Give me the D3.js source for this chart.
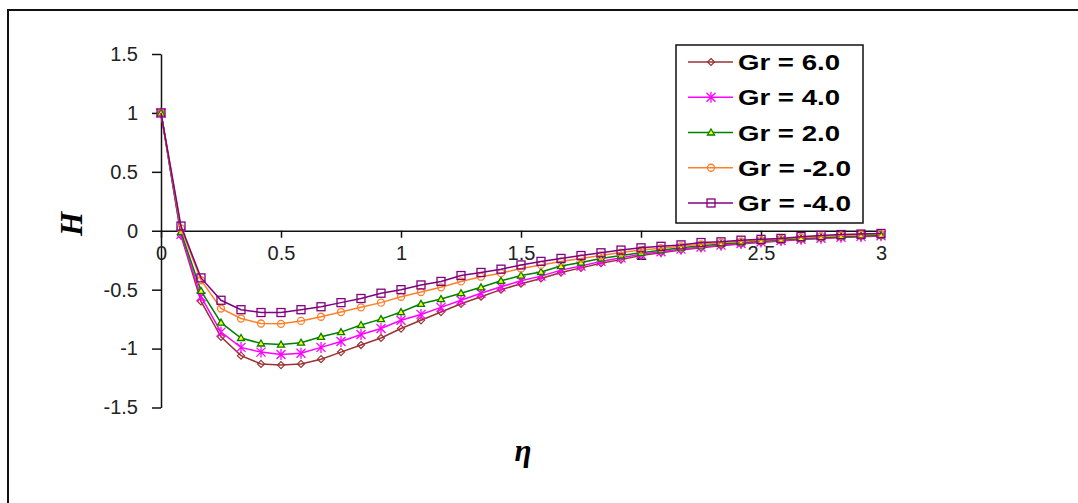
<!DOCTYPE html>
<html lang="en">
<head>
    <meta charset="UTF-8">
    <title>H profiles for different Gr</title>
    <script src="https://cdn.jsdelivr.net/npm/d3@7/dist/d3.min.js"></script>
    <style>
        body { margin: 0; background: #fff; }
        .tick text { font-family: "Liberation Sans", Arial, sans-serif; font-size: 20px; fill: #222; }
    </style>
</head>
<body>
<svg width="1078" height="503"></svg>
<script>
// eta grid (step 1/12)
const eta = [0, 0.0833, 0.1667, 0.25, 0.3333, 0.4167, 0.5, 0.5833, 0.6667, 0.75, 0.8333, 0.9167,
    1, 1.0833, 1.1667, 1.25, 1.3333, 1.4167, 1.5, 1.5833, 1.6667, 1.75, 1.8333, 1.9167,
    2, 2.0833, 2.1667, 2.25, 2.3333, 2.4167, 2.5, 2.5833, 2.6667, 2.75, 2.8333, 2.9167, 3];

const hGr6 = [1, -0.04, -0.60, -0.90, -1.06, -1.13, -1.14, -1.13, -1.09, -1.03, -0.97, -0.91,
    -0.83, -0.76, -0.69, -0.62, -0.56, -0.50, -0.45, -0.405, -0.355, -0.315, -0.275, -0.245,
    -0.21, -0.186, -0.163, -0.144, -0.127, -0.112, -0.098, -0.086, -0.075, -0.065, -0.057, -0.05, -0.044];
const hGr4 = [1, -0.03, -0.56, -0.86, -0.99, -1.03, -1.05, -1.04, -0.99, -0.94, -0.88, -0.83,
    -0.76, -0.71, -0.65, -0.59, -0.53, -0.476, -0.425, -0.385, -0.334, -0.30, -0.26, -0.23,
    -0.20, -0.178, -0.156, -0.138, -0.122, -0.108, -0.095, -0.083, -0.072, -0.063, -0.055, -0.048, -0.042];
const hGr2 = [1, -0.01, -0.51, -0.78, -0.91, -0.957, -0.966, -0.95, -0.90, -0.86, -0.80, -0.75,
    -0.69, -0.62, -0.58, -0.53, -0.48, -0.425, -0.38, -0.35, -0.30, -0.27, -0.235, -0.21,
    -0.187, -0.165, -0.145, -0.128, -0.113, -0.10, -0.088, -0.077, -0.066, -0.057, -0.05, -0.044, -0.038];
const hGrM2 = [1, 0.02, -0.42, -0.66, -0.745, -0.787, -0.79, -0.765, -0.73, -0.69, -0.65, -0.61,
    -0.56, -0.52, -0.48, -0.43, -0.39, -0.36, -0.32, -0.29, -0.26, -0.235, -0.21, -0.185,
    -0.164, -0.148, -0.132, -0.115, -0.102, -0.09, -0.08, -0.07, -0.058, -0.048, -0.04, -0.034, -0.028];
const hGrM4 = [1, 0.04, -0.40, -0.59, -0.67, -0.694, -0.694, -0.67, -0.645, -0.61, -0.575, -0.53,
    -0.50, -0.46, -0.43, -0.38, -0.354, -0.326, -0.29, -0.26, -0.235, -0.21, -0.187, -0.164,
    -0.145, -0.132, -0.12, -0.10, -0.094, -0.08, -0.073, -0.065, -0.05, -0.04, -0.032, -0.028, -0.023];

const seriesNames = ["Gr = 6.0", "Gr = 4.0", "Gr = 2.0", "Gr = -2.0", "Gr = -4.0"];
const xTicks = [0, 0.5, 1, 1.5, 2, 2.5, 3];
const yTicks = [-1.5, -1, -0.5, 0, 0.5, 1, 1.5];

const seriesValues = [hGr6, hGr4, hGr2, hGrM2, hGrM4];
const colors = ["#993333", "#ff00ff", "#008000", "#ff7f2a", "#800080"];
const markers = ["diamond", "star", "triangle", "circle", "square"];

const svg = d3.select("svg");

// outer frame (only top and left edges visible)
svg.append("rect")
    .attr("x", 8).attr("y", 10)
    .attr("width", 1200).attr("height", 600)
    .attr("fill", "none").attr("stroke", "#111").attr("stroke-width", 2);

const xScale = d3.scaleLinear().domain([0, 3]).range([161, 881]);
const yScale = d3.scaleLinear().domain([-1.5, 1.5]).range([407.5, 54]);

const yAxis = svg.append("g")
    .attr("transform", "translate(161,0)")
    .call(d3.axisLeft(yScale).tickValues(yTicks).tickSize(9).tickSizeOuter(0)
        .tickPadding(14).tickFormat(d => String(d)));

const xAxis = svg.append("g")
    .attr("transform", "translate(0," + yScale(0) + ")")
    .call(d3.axisBottom(xScale).tickValues(xTicks).tickSize(7).tickSizeOuter(0)
        .tickPadding(8).tickFormat(d => String(d)));

svg.selectAll(".domain, .tick line").attr("stroke", "#111").attr("stroke-width", 1.5);

// axis titles
svg.append("text")
    .attr("transform", "translate(82,224) rotate(-90)")
    .attr("text-anchor", "middle")
    .style("font-family", "'Liberation Serif', 'Times New Roman', serif")
    .style("font-weight", "bold").style("font-style", "italic")
    .style("font-size", "31px")
    .text("H");

svg.append("text")
    .attr("x", 523).attr("y", 461)
    .attr("text-anchor", "middle")
    .style("font-family", "'Liberation Serif', 'Times New Roman', serif")
    .style("font-weight", "bold").style("font-style", "italic")
    .style("font-size", "31px")
    .text("η");

function drawMarker(g, type, color, cx, cy) {
    if (type === "diamond") {
        g.append("path")
            .attr("d", `M${cx},${cy - 3.5}L${cx + 3.5},${cy}L${cx},${cy + 3.5}L${cx - 3.5},${cy}Z`)
            .attr("fill", "none").attr("stroke", color).attr("stroke-width", 1.2);
    } else if (type === "star") {
        const r = 4.5;
        g.append("path")
            .attr("d", `M${cx - r},${cy - r}L${cx + r},${cy + r}M${cx - r},${cy + r}L${cx + r},${cy - r}M${cx},${cy - r - 1}L${cx},${cy + r + 1}`)
            .attr("stroke", color).attr("stroke-width", 1.3);
    } else if (type === "triangle") {
        g.append("path")
            .attr("d", `M${cx},${cy - 3.5}L${cx + 3.5},${cy + 2.5}L${cx - 3.5},${cy + 2.5}Z`)
            .attr("fill", "#ffff00").attr("stroke", color).attr("stroke-width", 1.3);
    } else if (type === "circle") {
        g.append("circle").attr("cx", cx).attr("cy", cy).attr("r", 3.5)
            .attr("fill", "none").attr("stroke", color).attr("stroke-width", 1.3);
    } else {
        g.append("rect").attr("x", cx - 4).attr("y", cy - 4).attr("width", 8).attr("height", 8)
            .attr("fill", "none").attr("stroke", color).attr("stroke-width", 1.3);
    }
}

const line = d3.line()
    .x((d, i) => xScale(eta[i]))
    .y(d => yScale(d));

seriesValues.forEach((vals, s) => {
    const g = svg.append("g");
    g.append("path")
        .attr("d", line(vals))
        .attr("fill", "none")
        .attr("stroke", colors[s])
        .attr("stroke-width", 1.5);
    vals.forEach((v, i) => drawMarker(g, markers[s], colors[s], xScale(eta[i]), yScale(v)));
});

// legend
const legend = svg.append("g");
legend.append("rect")
    .attr("x", 676).attr("y", 45).attr("width", 187).attr("height", 178)
    .attr("fill", "#fff").attr("stroke", "#111").attr("stroke-width", 1.5);

const rowY = d3.scalePoint().domain(seriesNames).range([62, 203]);
seriesNames.forEach((name, s) => {
    const yy = rowY(name);
    legend.append("line")
        .attr("x1", 688).attr("x2", 733).attr("y1", yy).attr("y2", yy)
        .attr("stroke", colors[s]).attr("stroke-width", 1.5);
    drawMarker(legend, markers[s], colors[s], 711, yy);
    legend.append("text")
        .attr("x", 738).attr("y", yy + 8)
        .attr("textLength", name.length > 8 ? 113 : 102)
        .attr("lengthAdjust", "spacingAndGlyphs")
        .style("font-family", "'Liberation Sans', Arial, sans-serif")
        .style("font-weight", "bold")
        .style("font-size", "22px")
        .style("fill", "#000")
        .text(name);
});
</script>
</body>
</html>
